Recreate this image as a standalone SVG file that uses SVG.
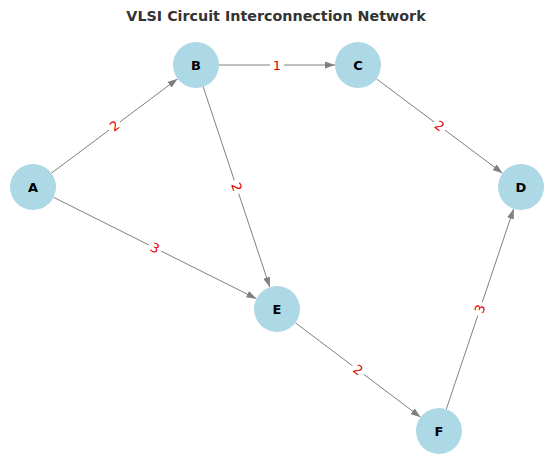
<svg xmlns="http://www.w3.org/2000/svg" width="550" height="462" viewBox="0 0 550 462">
<style>
.node circle{fill:#add8e6;}
.node text{font-family:"DejaVu Sans",sans-serif;font-size:13px;font-weight:bold;fill:#000;text-anchor:middle;dominant-baseline:central;}
.edge{stroke:#808080;stroke-width:1;fill:none;marker-end:url(#arr);}
.lbl rect{fill:#fff;}
.lbl text{font-family:"DejaVu Sans",sans-serif;font-size:13px;fill:#e00000;text-anchor:middle;dominant-baseline:central;}
.title{font-family:"DejaVu Sans",sans-serif;font-size:14.3px;font-weight:bold;fill:#333;text-anchor:middle;}
</style>
<defs>
<marker id="arr" markerUnits="userSpaceOnUse" markerWidth="10" markerHeight="7" refX="10" refY="3.5" orient="auto">
<path d="M0,0 L10,3.5 L0,7 z" fill="#808080"/>
</marker>
</defs>
<rect width="550" height="462" fill="#fff"/>
<text class="title" x="276" y="21">VLSI Circuit Interconnection Network</text>
<g id="connectors">
<line class="edge" x1="51.4" y1="173.2" x2="177.6" y2="78.8"/>
<line class="edge" x1="53.6" y1="197.3" x2="256.4" y2="298.7"/>
<line class="edge" x1="219" y1="65" x2="335" y2="65"/>
<line class="edge" x1="203.2" y1="86.8" x2="269.8" y2="287.2"/>
<line class="edge" x1="376.4" y1="78.8" x2="502.6" y2="173.2"/>
<line class="edge" x1="295.4" y1="322.8" x2="420.6" y2="417.2"/>
<line class="edge" x1="446.3" y1="409.2" x2="513.7" y2="208.8"/>
<g class="lbl" transform="translate(114.5,126) rotate(-36.8)"><rect x="-7" y="-8" width="14" height="16"/><text x="0" y="0">2</text></g>
<g class="lbl" transform="translate(155,248) rotate(26.6)"><rect x="-7" y="-8" width="14" height="16"/><text x="0" y="0">3</text></g>
<g class="lbl" transform="translate(277,65)"><rect x="-7" y="-8" width="14" height="16"/><text x="0" y="0">1</text></g>
<g class="lbl" transform="translate(236.5,187) rotate(71.6)"><rect x="-7" y="-8" width="14" height="16"/><text x="0" y="0">2</text></g>
<g class="lbl" transform="translate(439.5,126) rotate(36.8)"><rect x="-7" y="-8" width="14" height="16"/><text x="0" y="0">2</text></g>
<g class="lbl" transform="translate(358,370) rotate(37)"><rect x="-7" y="-8" width="14" height="16"/><text x="0" y="0">2</text></g>
<g class="lbl" transform="translate(480,309) rotate(-71.4)"><rect x="-7" y="-8" width="14" height="16"/><text x="0" y="0">3</text></g>
</g>
<g id="node-A" class="node"><circle cx="33" cy="187" r="23"/><text x="33" y="187">A</text></g>
<g id="node-B" class="node"><circle cx="196" cy="65" r="23"/><text x="196" y="65">B</text></g>
<g id="node-C" class="node"><circle cx="358" cy="65" r="23"/><text x="358" y="65">C</text></g>
<g id="node-D" class="node"><circle cx="521" cy="187" r="23"/><text x="521" y="187">D</text></g>
<g id="node-E" class="node"><circle cx="277" cy="309" r="23"/><text x="277" y="309">E</text></g>
<g id="node-F" class="node"><circle cx="439" cy="431" r="23"/><text x="439" y="431">F</text></g>
</svg>
